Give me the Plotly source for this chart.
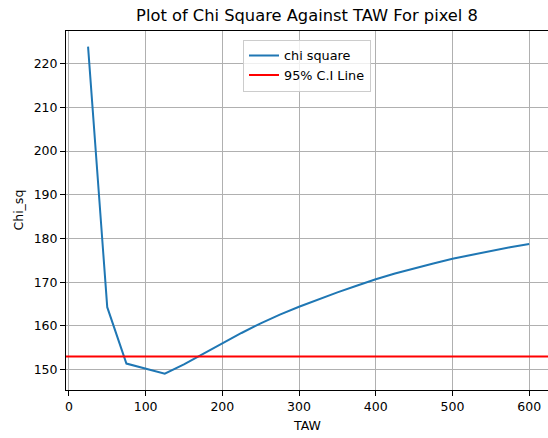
import plotly.graph_objects as go

taw = [25, 50, 75, 100, 125, 150, 175, 200, 225, 250, 275, 300, 325, 350,
       375, 400, 425, 450, 475, 500, 525, 550, 575, 600]
chi_sq = [223.9, 164.3, 151.4, 150.2, 149.1, 151.2, 153.6, 156.0, 158.4, 160.6,
          162.6, 164.4, 166.1, 167.7, 169.2, 170.7, 172.0, 173.2, 174.3, 175.4,
          176.3, 177.2, 178.0, 178.75]
ci_value = 153.04

x_ticks = [0, 100, 200, 300, 400, 500, 600]
y_ticks = [150, 160, 170, 180, 190, 200, 210, 220]

FONT = "DejaVu Sans"
W, H = 548, 438
ML, MR, MT, MB = 66, 0, 31, 48

fig = go.Figure()
fig.add_trace(go.Scatter(x=taw, y=chi_sq, mode="lines", name="chi square",
                         line=dict(color="#1f77b4", width=2)))
fig.add_trace(go.Scatter(x=[None], y=[None], mode="lines", name="95% C.I Line",
                         line=dict(color="#ff0000", width=2)))
fig.add_shape(type="line", xref="x domain", yref="y", x0=0, x1=1,
              y0=ci_value, y1=ci_value, line=dict(color="#ff0000", width=2))

plot_h = H - MT - MB
fig.add_annotation(text="TAW", xref="paper", yref="paper", x=0.5,
                   y=-(425 - (H - MB)) / plot_h, xanchor="center", yanchor="middle",
                   showarrow=False, font=dict(family=FONT, size=12.5, color="#000"))
fig.add_annotation(text="Chi_sq", xref="paper", yref="paper",
                   x=-(ML - 18) / (W - ML - MR), y=0.5, textangle=-90,
                   xanchor="center", yanchor="middle",
                   showarrow=False, font=dict(family=FONT, size=12.5, color="#000"))

fig.update_layout(
    width=W, height=H,
    margin=dict(l=ML, r=MR, t=MT, b=MB, autoexpand=False),
    paper_bgcolor="white", plot_bgcolor="white",
    font=dict(family=FONT, size=12.5, color="#000"),
    title=dict(text="Plot of Chi Square Against TAW For pixel 8",
               x=0.5, xref="paper", xanchor="center",
               y=1 - 15.5 / H, yref="container", yanchor="middle",
               font=dict(family=FONT, size=16.3, color="#000")),
    legend=dict(x=0.5, xanchor="center", y=0.976, yanchor="top",
                bgcolor="rgba(255,255,255,0.8)", bordercolor="#cccccc",
                borderwidth=1, font=dict(family=FONT, size=12.8)),
    showlegend=True,
)
fig.update_xaxes(range=[-3.75, 624.5], tickvals=x_ticks, automargin=False,
                 showgrid=True, gridcolor="#b0b0b0", gridwidth=1,
                 showline=True, linecolor="black", linewidth=1, mirror=True,
                 ticks="outside", ticklen=5, tickcolor="black",
                 zeroline=False)
fig.update_yaxes(range=[145.36, 227.47], tickvals=y_ticks, automargin=False,
                 showgrid=True, gridcolor="#b0b0b0", gridwidth=1,
                 showline=True, linecolor="black", linewidth=1, mirror=False,
                 ticks="outside", ticklen=5, tickcolor="black",
                 zeroline=False)

fig.write_html("out.html",
               config={"displayModeBar": False},
               post_script="document.body.style.margin='0';"
                           "document.body.style.overflow='hidden';")
